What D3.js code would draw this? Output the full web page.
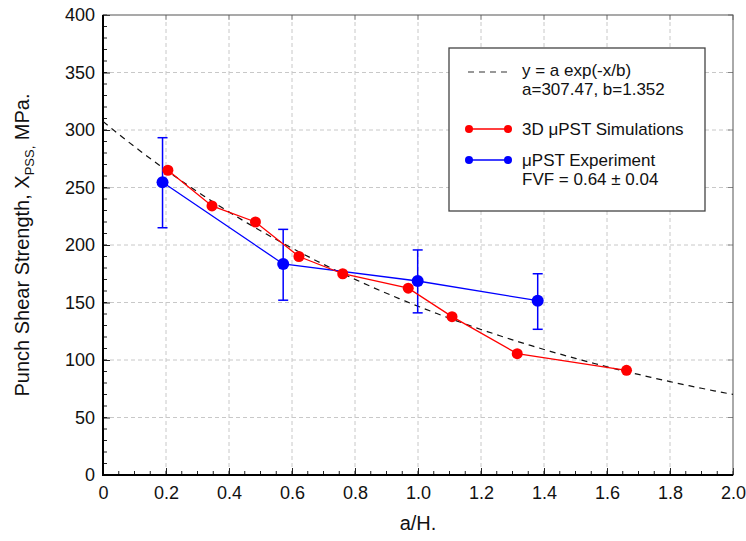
<!DOCTYPE html>
<html><head><meta charset="utf-8">
<script src="https://cdn.jsdelivr.net/npm/d3@7"></script>
<style>body{margin:0;background:#fff;} svg{display:block;font-family:"Liberation Sans",Arial,sans-serif;}</style>
</head><body>
<svg id="c" width="746" height="541"></svg>
<script>
const simX = [0.206, 0.346, 0.484, 0.622, 0.761, 0.969, 1.108, 1.315, 1.662];
const simY = [265, 234, 220, 190, 175, 162.5, 137.7, 105.5, 91];
const expX = [0.189, 0.572, 0.999, 1.38];
const expY = [254.5, 183.5, 168.7, 151.6];
const expLo = [215, 152, 141, 126.7];
const expHi = [293.3, 213.6, 195.7, 175];
const fitA = 307.47, fitB = 1.352;
const xTicks = [0, 0.2, 0.4, 0.6, 0.8, 1.0, 1.2, 1.4, 1.6, 1.8, 2.0];
const xTickLabels = ["0","0.2","0.4","0.6","0.8","1.0","1.2","1.4","1.6","1.8","2.0"];
const yTicks = [0, 50, 100, 150, 200, 250, 300, 350, 400];

const svg = d3.select("#c");
const L = 103, R = 733, T = 15, B = 475;
const x = d3.scaleLinear().domain([0, 2]).range([L, R]);
const y = d3.scaleLinear().domain([0, 400]).range([B, T]);

// grid
const g = svg.append("g");
g.selectAll(".gx").data(xTicks.slice(1, -1)).join("line")
  .attr("x1", d => x(d)).attr("x2", d => x(d)).attr("y1", T).attr("y2", B)
  .attr("stroke", "#c8c8c8").attr("stroke-dasharray", "4,3").attr("stroke-width", 1);
g.selectAll(".gy").data(yTicks.slice(1, -1)).join("line")
  .attr("y1", d => y(d)).attr("y2", d => y(d)).attr("x1", L).attr("x2", R)
  .attr("stroke", "#c8c8c8").attr("stroke-dasharray", "4,3").attr("stroke-width", 1);

// axes
const xMinor = d3.range(0, 2.0001, 0.05);
const yMinor = d3.range(0, 400.01, 10);
const axB = d3.axisBottom(x).tickValues(xTicks).tickFormat((d, i) => xTickLabels[i]).tickSizeInner(-7).tickSizeOuter(0).tickPadding(11);
const axL = d3.axisLeft(y).tickValues(yTicks).tickSizeInner(-7).tickSizeOuter(0).tickPadding(8);
const gb = svg.append("g").attr("transform", `translate(0,${B})`).call(axB);
const gl = svg.append("g").attr("transform", `translate(${L},0)`).call(axL);
[gb, gl].forEach(a => {
  a.select(".domain").remove();
  a.selectAll("text").attr("font-size", 18).attr("fill", "#111").attr("font-family", "Liberation Sans, Arial, sans-serif");
  a.selectAll(".tick line").attr("stroke", "#222");
});
// minor ticks
svg.append("g").selectAll("line").data(xMinor).join("line")
  .attr("x1", d => x(d)).attr("x2", d => x(d)).attr("y1", B).attr("y2", B - 4).attr("stroke", "#222");
svg.append("g").selectAll("line").data(yMinor).join("line")
  .attr("y1", d => y(d)).attr("y2", d => y(d)).attr("x1", L).attr("x2", L + 4).attr("stroke", "#222");
// top & right ticks
svg.append("g").selectAll("line").data(xTicks).join("line")
  .attr("x1", d => x(d)).attr("x2", d => x(d)).attr("y1", T).attr("y2", T + 5).attr("stroke", "#888");
svg.append("g").selectAll("line").data(yTicks).join("line")
  .attr("y1", d => y(d)).attr("y2", d => y(d)).attr("x1", R).attr("x2", R - 5).attr("stroke", "#888");

// frame
svg.append("rect").attr("x", L).attr("y", T).attr("width", R - L).attr("height", B - T)
  .attr("fill", "none").attr("stroke", "#555").attr("stroke-width", 1);
svg.append("line").attr("x1", L).attr("x2", L).attr("y1", T).attr("y2", B + 1).attr("stroke", "#000").attr("stroke-width", 2);
svg.append("line").attr("x1", L - 1).attr("x2", R).attr("y1", B).attr("y2", B).attr("stroke", "#000").attr("stroke-width", 2);

// fit curve
const fitXs = d3.range(0, 2.0001, 0.02);
svg.append("path").datum(fitXs)
  .attr("d", d3.line().x(d => x(d)).y(d => y(fitA * Math.exp(-d / fitB))))
  .attr("fill", "none").attr("stroke", "#111").attr("stroke-width", 1.2).attr("stroke-dasharray", "6,5");

// experiment
const expData = expX.map((v, i) => ({x: v, y: expY[i], lo: expLo[i], hi: expHi[i]}));
const ln = d3.line().x(d => x(d.x)).y(d => y(d.y));
svg.append("path").datum(expData).attr("d", ln).attr("fill", "none").attr("stroke", "#0000ff").attr("stroke-width", 1.3);
const eb = svg.append("g").attr("stroke", "#0000ff").attr("stroke-width", 1.5);
eb.selectAll(".v").data(expData).join("line").attr("x1", d => x(d.x)).attr("x2", d => x(d.x)).attr("y1", d => y(d.lo)).attr("y2", d => y(d.hi));
eb.selectAll(".t").data(expData).join("line").attr("x1", d => x(d.x) - 5).attr("x2", d => x(d.x) + 5).attr("y1", d => y(d.hi)).attr("y2", d => y(d.hi));
eb.selectAll(".b").data(expData).join("line").attr("x1", d => x(d.x) - 5).attr("x2", d => x(d.x) + 5).attr("y1", d => y(d.lo)).attr("y2", d => y(d.lo));

// simulation
const simData = simX.map((v, i) => ({x: v, y: simY[i]}));
svg.append("path").datum(simData).attr("d", ln).attr("fill", "none").attr("stroke", "#ff0000").attr("stroke-width", 1.3);
svg.append("g").selectAll("circle").data(simData).join("circle")
  .attr("cx", d => x(d.x)).attr("cy", d => y(d.y)).attr("r", 5.5).attr("fill", "#ff0000");
svg.append("g").selectAll("circle").data(expData).join("circle")
  .attr("cx", d => x(d.x)).attr("cy", d => y(d.y)).attr("r", 6).attr("fill", "#0000ff");

// legend
const lg = svg.append("g");
lg.append("rect").attr("x", 449).attr("y", 48).attr("width", 256).attr("height", 163)
  .attr("fill", "#fff").attr("stroke", "#444").attr("stroke-width", 1.3);
lg.append("line").attr("x1", 468).attr("x2", 510).attr("y1", 72).attr("y2", 72)
  .attr("stroke", "#333").attr("stroke-width", 1.2).attr("stroke-dasharray", "6,5");
const tx = 522;
const lt = (t, yy) => lg.append("text").attr("x", tx).attr("y", yy).attr("font-size", 17).attr("fill", "#111").text(t);
lt("y = a exp(-x/b)", 76);
lt("a=307.47, b=1.352", 94.5);
lg.append("line").attr("x1", 469).attr("x2", 508).attr("y1", 129).attr("y2", 129).attr("stroke", "#ff0000").attr("stroke-width", 1.3);
lg.selectAll(".rc").data([469, 508]).join("circle").attr("cx", d => d).attr("cy", 129).attr("r", 4).attr("fill", "#ff0000");
lt("3D \u03bcPST Simulations", 135);
lg.append("line").attr("x1", 469).attr("x2", 508).attr("y1", 160).attr("y2", 160).attr("stroke", "#0000ff").attr("stroke-width", 1.3);
lg.selectAll(".bc").data([469, 508]).join("circle").attr("cx", d => d).attr("cy", 160).attr("r", 4).attr("fill", "#0000ff");
lt("\u03bcPST Experiment", 165.5);
lt("FVF = 0.64 \u00b1 0.04", 185);

// axis titles
svg.append("text").attr("x", x(1)).attr("y", 530).attr("text-anchor", "middle").attr("font-size", 20).attr("fill", "#111").text("a/H.");
const yt = svg.append("text").attr("transform", `translate(29,${(T + B) / 2}) rotate(-90)`)
  .attr("text-anchor", "middle").attr("font-size", 20).attr("fill", "#111");
yt.append("tspan").text("Punch Shear Strength, X");
yt.append("tspan").attr("font-size", 13).attr("dy", 5).text("PSS");
yt.append("tspan").attr("font-size", 13).text(",");
yt.append("tspan").attr("dy", -5).text(" MPa.");
</script>
</body></html>
